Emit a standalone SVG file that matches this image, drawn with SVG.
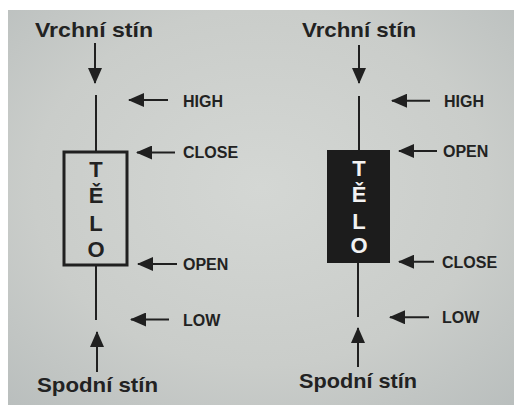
<svg xmlns="http://www.w3.org/2000/svg" width="514" height="405" viewBox="0 0 514 405">
  <defs>
    <radialGradient id="bg" cx="0.5" cy="0.45" r="0.75">
      <stop offset="0" stop-color="#d4d7d4"/>
      <stop offset="0.6" stop-color="#cacdca"/>
      <stop offset="1" stop-color="#b9bebd"/>
    </radialGradient>
    <marker id="ah" markerUnits="userSpaceOnUse" markerWidth="16" markerHeight="14" refX="15" refY="7" orient="auto">
      <path d="M0,0 L16,7 L0,14 Z" fill="#202020"/>
    </marker>
  </defs>
  <style>
    .t { font-family: "Liberation Sans", Arial, sans-serif; font-weight: bold; fill: #222; }
    .title { font-size: 21px; }
    .lab { font-size: 16px; }
    .let { font-size: 22px; text-anchor: middle; }
    .w { fill: #f2f2f2; }
    .wick { stroke: #202020; stroke-width: 2; fill: none; }
    .con { stroke: #202020; stroke-width: 2; fill: none; marker-end: url(#ah); }
  </style>
  <rect x="0" y="0" width="514" height="405" fill="#ffffff"/>
  <rect x="8" y="10" width="506" height="395" fill="url(#bg)"/>

  <g id="left-candle">
    <text class="t title" x="35" y="37" textLength="118" lengthAdjust="spacingAndGlyphs">Vrchní stín</text>
    <line class="wick" x1="96" y1="95" x2="96" y2="152"/>
    <rect x="64" y="152" width="63" height="113" fill="none" stroke="#202020" stroke-width="3"/>
    <text class="t let" x="96" y="177">T</text>
    <text class="t let" x="96" y="203">Ě</text>
    <text class="t let" x="96" y="231">L</text>
    <text class="t let" x="96" y="257">O</text>
    <line class="wick" x1="96" y1="265" x2="96" y2="320"/>
    <text class="t title" x="37" y="392" textLength="121" lengthAdjust="spacingAndGlyphs">Spodní stín</text>
  </g>
  <g id="left-labels">
    <text class="t lab" x="183" y="107">HIGH</text>
    <text class="t lab" x="183" y="158">CLOSE</text>
    <text class="t lab" x="183" y="270">OPEN</text>
    <text class="t lab" x="183" y="326">LOW</text>
  </g>

  <g id="right-candle">
    <text class="t title" x="302" y="37" textLength="114" lengthAdjust="spacingAndGlyphs">Vrchní stín</text>
    <line class="wick" x1="359" y1="96" x2="359" y2="150"/>
    <rect x="327" y="150" width="63" height="113" fill="#1c1c1c"/>
    <text class="t let w" x="359" y="176">T</text>
    <text class="t let w" x="359" y="202">Ě</text>
    <text class="t let w" x="359" y="229">L</text>
    <text class="t let w" x="359" y="253">O</text>
    <line class="wick" x1="358" y1="263" x2="358" y2="317"/>
    <text class="t title" x="299" y="388" textLength="118" lengthAdjust="spacingAndGlyphs">Spodní stín</text>
  </g>
  <g id="right-labels">
    <text class="t lab" x="444" y="107">HIGH</text>
    <text class="t lab" x="443" y="157">OPEN</text>
    <text class="t lab" x="442" y="268">CLOSE</text>
    <text class="t lab" x="442" y="323">LOW</text>
  </g>

  <g id="connectors">
    <line class="con" x1="95" y1="43" x2="95" y2="83"/>
    <line class="con" x1="97" y1="372" x2="97" y2="332"/>
    <line class="con" x1="168" y1="100" x2="129" y2="100"/>
    <line class="con" x1="175" y1="152.5" x2="137" y2="152.5"/>
    <line class="con" x1="177" y1="264" x2="138" y2="264"/>
    <line class="con" x1="169" y1="319.5" x2="131" y2="319.5"/>
    <line class="con" x1="359" y1="45" x2="359" y2="83"/>
    <line class="con" x1="358" y1="367" x2="358" y2="328"/>
    <line class="con" x1="430" y1="100.7" x2="392" y2="100.7"/>
    <line class="con" x1="437" y1="151" x2="399" y2="151"/>
    <line class="con" x1="434" y1="261.7" x2="399" y2="261.7"/>
    <line class="con" x1="429" y1="317.3" x2="390" y2="317.3"/>
  </g>
</svg>
